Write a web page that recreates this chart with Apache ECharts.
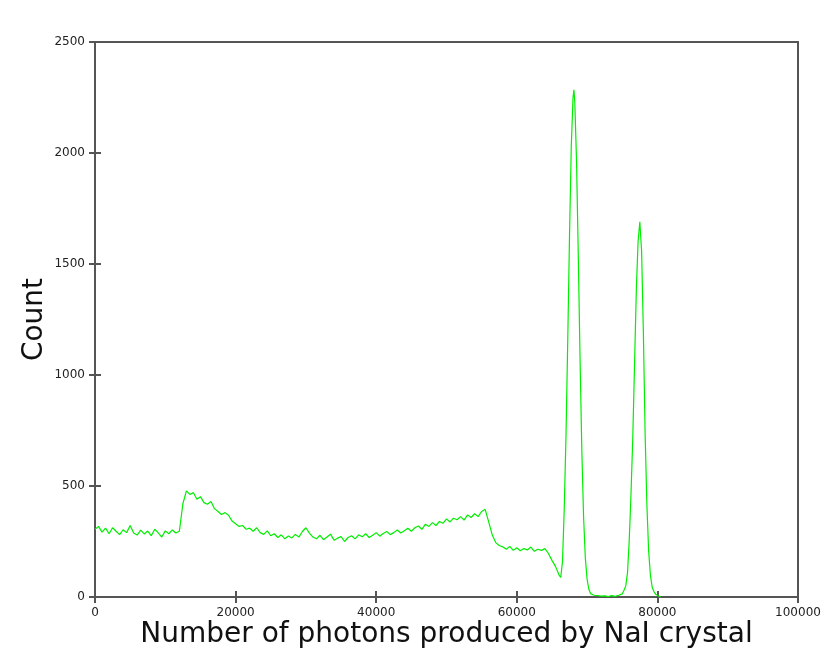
<!DOCTYPE html>
<html>
<head>
<meta charset="utf-8">
<script src="https://cdn.jsdelivr.net/npm/echarts@6/dist/echarts.min.js"></script>
<style>html,body{margin:0;padding:0;background:#fff}#c{width:828px;height:649px}</style>
</head>
<body>
<div id="c"></div>
<script>
// Photon-count spectrum
const photons = [
  0,500,1000,1500,2000,2500,3000,3500,4000,4500,5000,5500,6000,6500,7000,7500,8000,8500,9000,9500,10000,10500,11000,11500,12000,
  12500,13000,13500,14000,14500,15000,15500,16000,16500,17000,17500,18000,18500,19000,19500,20000,20500,21000,21500,22000,22500,23000,23500,24000,24500,
  25000,25500,26000,26500,27000,27500,28000,28500,29000,29500,30000,30500,31000,31500,32000,32500,33000,33500,34000,34500,35000,35500,36000,36500,37000,
  37500,38000,38500,39000,39500,40000,40500,41000,41500,42000,42500,43000,43500,44000,44500,45000,45500,46000,46500,47000,47500,48000,48500,49000,49500,
  50000,50500,51000,51500,52000,52500,53000,53500,54000,54500,55000,55500,56000,56500,57000,57500,58000,58500,59000,59500,60000,60500,61000,61500,62000,
  62500,63000,63500,64000,64500,65000,65500,66000,
  66250,66500,66750,67000,67250,67500,67750,68000,68125,68250,68500,68750,69000,69250,69500,69750,70000,70250,70500,
  71000,71500,72000,72500,73000,73500,74000,74500,75000,
  75250,75500,75750,76000,76250,76500,76750,77000,77250,77500,77750,78000,78250,78500,78750,79000,79250,79500,79750,80000,80250,80500
];
const counts = [
  305,318,292,310,285,312,296,281,303,290,322,288,279,301,284,297,276,305,289,270,298,285,302,288,296,
  420,478,462,470,440,452,425,418,430,398,385,372,380,368,342,330,318,322,305,310,296,312,290,282,298,
  276,285,268,280,262,275,266,282,270,295,312,288,270,262,278,258,270,283,256,265,272,250,268,276,262,
  280,271,285,268,278,290,274,286,295,281,290,302,288,298,310,296,312,320,305,328,318,335,322,340,332,
  352,338,355,348,362,346,370,358,375,362,385,395,338,280,245,232,226,215,228,210,222,208,218,212,225,
  206,215,210,218,196,165,138,100,
  88,160,400,730,1160,1630,2030,2250,2285,2230,1960,1530,1070,660,360,175,80,35,15,
  8,6,4,5,2,6,3,8,14,
  30,50,110,260,470,720,1050,1380,1600,1690,1560,1200,740,420,210,100,45,25,12,8,3,0
];
const xTicks = [0,20000,40000,60000,80000,100000];
const yTicks = [0,500,1000,1500,2000,2500];
const xTitle = 'Number of photons produced by NaI crystal';
const yTitle = 'Count';

const data = photons.map((p, i) => [p, counts[i]]);
const font = 'DejaVu Sans';
const chart = echarts.init(document.getElementById('c'), null, {renderer: 'canvas'});
const axisLine = {show: true, lineStyle: {color: '#555', width: 2}};
const tick = {show: true, inside: true, length: 6, lineStyle: {color: '#555', width: 2}};
chart.setOption({
  animation: false,
  backgroundColor: '#fff',
  grid: {left: 95, right: 30, top: 42, bottom: 52, containLabel: false, outerBoundsMode: 'none',
         show: true, borderColor: '#555', borderWidth: 2},
  xAxis: [{
    type: 'value', min: 0, max: 100000, interval: 20000, position: 'bottom',
    name: xTitle, nameLocation: 'middle', nameGap: 24, nameMoveOverlap: false,
    nameTextStyle: {fontFamily: font, fontSize: 28, color: '#111', verticalAlign: 'top'},
    axisLine: axisLine, axisTick: tick,
    axisLabel: {fontFamily: font, fontSize: 12, color: '#222', margin: 10, formatter: v => xTicks.includes(v) ? String(v) : ''},
    splitLine: {show: false}
  }, {
    type: 'value', min: 0, max: 100000, interval: 20000, position: 'top',
    axisLine: axisLine, axisTick: tick,
    axisLabel: {show: false}, splitLine: {show: false}
  }],
  yAxis: [{
    type: 'value', min: 0, max: 2500, interval: 500, position: 'left',
    name: yTitle, nameLocation: 'middle', nameGap: 46, nameRotate: 90, nameMoveOverlap: false,
    nameTextStyle: {fontFamily: font, fontSize: 28, color: '#111'},
    axisLine: axisLine, axisTick: tick,
    axisLabel: {fontFamily: font, fontSize: 12, color: '#222', margin: 10, formatter: v => yTicks.includes(v) ? String(v) : ''},
    splitLine: {show: false}
  }, {
    type: 'value', min: 0, max: 2500, interval: 500, position: 'right',
    axisLine: axisLine, axisTick: tick,
    axisLabel: {show: false}, splitLine: {show: false}
  }],
  series: [{
    type: 'line', xAxisIndex: 0, yAxisIndex: 0,
    data: data, showSymbol: false, symbol: 'none',
    lineStyle: {color: '#00ee00', width: 1.2}
  }]
});
</script>
</body>
</html>
